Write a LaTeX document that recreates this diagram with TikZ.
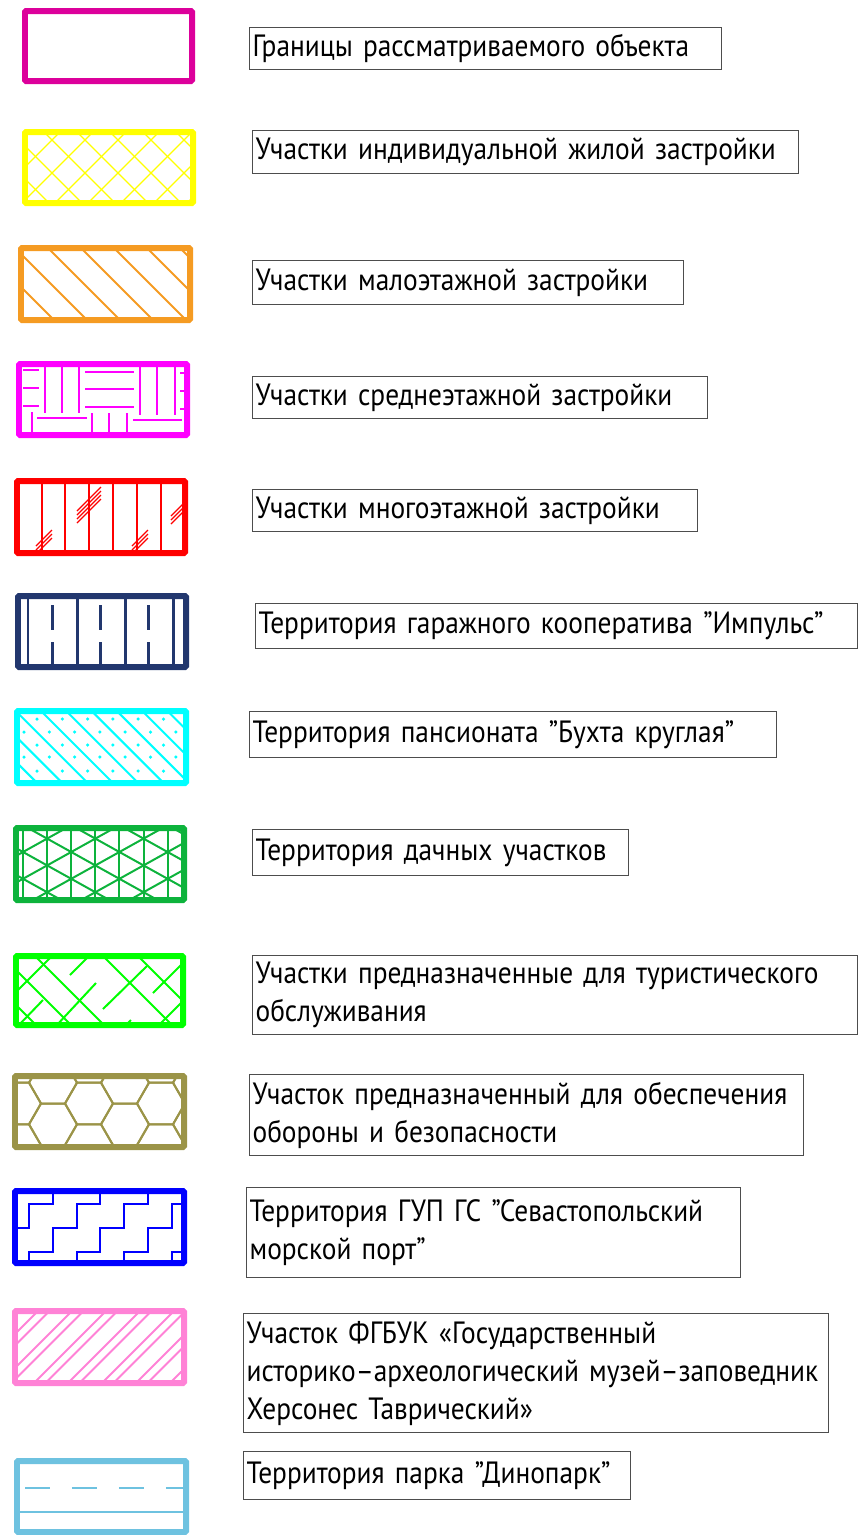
\documentclass[tikz,border=0pt]{standalone}
\usepackage{fontspec}
\setmainfont{PT Sans}[FakeStretch=0.89, WordSpace=3.2]
\usetikzlibrary{calc}
\definecolor{lgmag}{HTML}{DC009B}
\definecolor{lgyel}{HTML}{FFFF00}
\definecolor{lgorg}{HTML}{F59B22}
\definecolor{lgpur}{HTML}{FF00FF}
\definecolor{lgred}{HTML}{FF0000}
\definecolor{lgnavy}{HTML}{22376E}
\definecolor{lgcyan}{HTML}{00FFFF}
\definecolor{lggrn}{HTML}{0DB33C}
\definecolor{lglime}{HTML}{00FF00}
\definecolor{lgolive}{HTML}{9B9448}
\definecolor{lgblue}{HTML}{0000FF}
\definecolor{lgpink}{HTML}{FF82D6}
\definecolor{lgsky}{HTML}{6EC2E0}
\definecolor{lggray}{HTML}{4D4D4D}
\tikzset{
  frm/.style={line width=0.12cm, rounded corners=0.6pt},
  hat/.style={line width=0.04cm},
  fine/.style={line width=0.022cm},
  lbox/.style={draw=lggray, line width=0.7pt, anchor=north west, align=left,
    inner xsep=0.06cm, inner ysep=0pt, font=\fontsize{17.5pt}{21.6pt}\selectfont},
}

\begin{document}
\begin{tikzpicture}[x=0.02cm, y=-0.02cm]
  \useasboundingbox (0,0) rectangle (861,1535);

  % 1: boundary
  \draw[frm, draw=lgmag] (25,11) rectangle (192,81);

  % 2: individual housing, cross hatch
  \begin{scope}
    \clip (25,132) rectangle (193,203);
    \foreach \k in {-3,...,5} \draw[fine, lgyel] ({32+33*\k},120) -- ({127+33*\k},215);
    \foreach \k in {-2,...,7} \draw[fine, lgyel] ({72+33*\k},120) -- ({-23+33*\k},215);
  \end{scope}
  \draw[frm, draw=lgyel] (25,132) rectangle (193,203);

  % 3: low-rise
  \begin{scope}
    \clip (21,248) rectangle (190,320);
    \foreach \k in {-3,...,5} \draw[hat, lgorg] ({40+33*\k},240) -- ({130+33*\k},330);
  \end{scope}
  \draw[frm, draw=lgorg] (21,248) rectangle (190,320);

  % 4: mid-rise, parquet
  \foreach \a/\b/\c/\d in {23/370/39/370, 23/388/39/388, 23/406/39/406,
      45/367/45/413, 62/367/62/413, 79/367/79/413, 32/412/32/433, 37/418/87/418,
      85/372/134/372, 85/389/134/389, 85/407/134/407,
      92/413/92/433, 109/413/109/433, 127/413/127/433,
      140/367/140/415, 157/367/157/415, 175/367/175/415, 133/420/182/420,
      180/373/185/373, 180/391/185/391, 180/409/185/409}
    \draw[hat, lgpur] (\a,\b) -- (\c,\d);
  \draw[frm, draw=lgpur] (19,364) rectangle (187,435);

  % 5: high-rise
  \begin{scope}
    \clip (17,481) rectangle (185,553);
    \foreach \x in {42,65,89,113,137,161} \draw[fine, lgred] (\x,481) -- (\x,553);
    \foreach \i in {0,1,2} {
      \draw[fine, lgred] (36,{554-4*\i}) -- ++(16,-16);
      \draw[fine, lgred] (132,{554-4*\i}) -- ++(16,-16);
      \draw[fine, lgred] (171,{524-4*\i}) -- ++(14,-14);
    }
    \foreach \i in {0,...,3} \draw[fine, lgred] (77,{511+4*\i}) -- ++(24,-24);
  \end{scope}
  \draw[frm, draw=lgred] (17,481) rectangle (185,553);

  % 6: garage cooperative
  \foreach \x in {28,77,125,173} \draw[line width=0.06cm, lgnavy] (\x,599) -- (\x,664);
  \foreach \x in {52,100,148} {
    \draw[line width=0.06cm, lgnavy] (\x,605) -- (\x,630);
    \draw[line width=0.06cm, lgnavy] (\x,642) -- (\x,664);
  }
  \draw[frm, draw=lgnavy] (18,596) rectangle (186,667);

  % 7: boarding house, hatch + dots
  \begin{scope}
    \clip (17,711) rectangle (186,783);
    \foreach \k in {-4,...,6} \draw[hat, lgcyan] ({30+25.3*\k},700) -- ({130+25.3*\k},800);
    \foreach \yy/\xs in {719/37, 732/24, 745/37, 757/24, 771/37}
      \foreach \j in {0,...,6} \fill[lgcyan] ({\xs+25.3*\j},\yy) circle (0.035cm);
  \end{scope}
  \draw[frm, draw=lgcyan] (17,711) rectangle (186,783);

  % 8: dachas, triangles
  \begin{scope}
    \clip (16,828) rectangle (184,900);
    \foreach \k in {0,...,6} \draw[hat, lggrn] ({23+24.1*\k},828) -- ++(0,72);
    \foreach \k in {-5,...,2} \draw[hat, lggrn] (0,{839.2+26.8*\k}) -- (200,{950.4+26.8*\k});
    \foreach \k in {-2,...,6} \draw[hat, lggrn] (0,{864.8+26.8*\k}) -- (200,{753.6+26.8*\k});
  \end{scope}
  \draw[frm, draw=lggrn] (16,828) rectangle (184,900);

  % 9: tourism
  \begin{scope}
    \clip (16,956) rectangle (183,1025);
    \foreach \a/\b/\c/\d in {12/966/71/1025, 35/956/104/1025, 103/956/172/1025,
        138/956/190/1008, 14/1003/36/1025,
        16/992/52/956, 18/1026/43/1000, 56/1026/96/983, 70/975/88/957,
        103/1009/147/966, 153/993/185/961, 156/1028/185/999, 125/1026/131/1020}
      \draw[hat, lglime] (\a,\b) -- (\c,\d);
  \end{scope}
  \draw[frm, draw=lglime] (16,956) rectangle (183,1025);

  % 10: defence, hexagons
  \begin{scope}
    \clip (15,1076) rectangle (184,1147);
    \foreach \k in {-1,...,2} \foreach \m in {-1,...,1}
      \draw[hat, lgolive, shift={({89+72*\k},{1103.5+41.6*\m})}]
        (24,0) -- (12,20.8) -- (-12,20.8) -- (-24,0) -- (-12,-20.8) -- (12,-20.8) -- cycle;
    \foreach \k in {-1,...,2} \foreach \m in {-1,...,2}
      \draw[hat, lgolive, shift={({53+72*\k},{1082.7+41.6*\m})}]
        (24,0) -- (12,20.8) -- (-12,20.8) -- (-24,0) -- (-12,-20.8) -- (12,-20.8) -- cycle;
  \end{scope}
  \draw[frm, draw=lgolive] (15,1076) rectangle (184,1147);

  % 11: sea port, stairs
  \begin{scope}
    \clip (15,1191) rectangle (184,1263);
    \foreach \n in {-1,...,3}
      \draw[hat, lgblue] ({29+47.6*\n-47.6},{1252+71.4})
        \foreach \i in {1,...,8} { -- ++(0,-23.8) -- ++(23.8,0) };
  \end{scope}
  \draw[frm, draw=lgblue] (15,1191) rectangle (184,1263);

  % 12: museum, paired hatch
  \begin{scope}
    \clip (15,1311) rectangle (184,1383);
    \foreach \k in {-3,...,5} {
      \draw[hat, lgpink] ({1417+34*\k-1300},1300) -- ({1417+34*\k-1400},1400);
      \draw[hat, lgpink] ({1428.5+34*\k-1300},1300) -- ({1428.5+34*\k-1400},1400);
    }
  \end{scope}
  \draw[frm, draw=lgpink] (15,1311) rectangle (184,1383);

  % 13: dinopark
  \draw[hat, lgsky, dash pattern=on 0.5cm off 0.44cm] (25,1488) -- (184,1488);
  \draw[hat, lgsky] (17,1512) -- (186,1512);
  \draw[frm, draw=lgsky] (17,1461) rectangle (186,1532);

  % labels
  \node[lbox, text width=9.32cm, minimum height=0.84cm] (bnd) at (249,27) {Границы рассматриваемого объекта};
  \node[lbox, text width=10.80cm, minimum height=0.86cm] (izs) at (252,130) {Участки индивидуальной жилой застройки};
  \node[lbox, text width=8.50cm, minimum height=0.88cm] (mlz) at (252,260) {Участки малоэтажной застройки};
  \node[lbox, text width=8.98cm, minimum height=0.84cm] (srz) at (252,376) {Участки среднеэтажной застройки};
  \node[lbox, text width=8.78cm, minimum height=0.84cm] (mnz) at (252,489) {Участки многоэтажной застройки};
  \node[lbox, text width=11.92cm, minimum height=0.90cm] (gar) at (255,603) {Территория гаражного кооператива ”Импульс”};
  \node[lbox, text width=10.42cm, minimum height=0.92cm] (pns) at (249,711) {Территория пансионата ”Бухта круглая”};
  \node[lbox, text width=7.40cm, minimum height=0.92cm] (dch) at (252,829) {Территория дачных участков};
  \node[lbox, text width=11.98cm, minimum height=1.58cm] (tur) at (252,955) {Участки предназначенные для туристического\\обслуживания};
  \node[lbox, text width=10.96cm, minimum height=1.62cm] (obr) at (249,1074) {Участок предназначенный для обеспечения\\обороны и безопасности};
  \node[lbox, text width=9.76cm, minimum height=1.80cm] (prt) at (246,1187) {Территория ГУП ГС ”Севастопольский\\морской порт”};
  \node[lbox, text width=11.58cm, minimum height=2.38cm] (mus) at (243,1313) {Участок ФГБУК «Государственный\\историко–археологический музей–заповедник\\Херсонес Таврический»};
  \node[lbox, text width=7.62cm, minimum height=0.96cm] (din) at (243,1451) {Территория парка ”Динопарк”};
\end{tikzpicture}
\end{document}
